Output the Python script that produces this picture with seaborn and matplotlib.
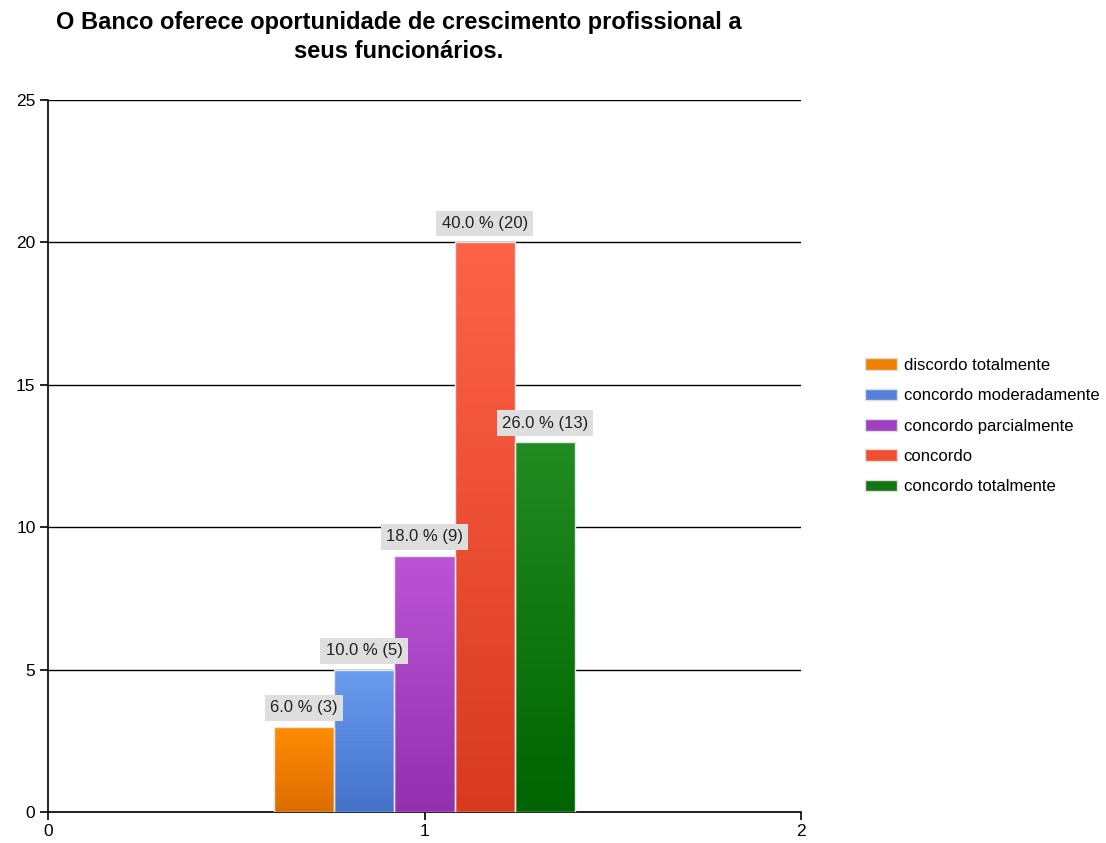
import numpy as np
import pandas as pd
import seaborn as sns
import matplotlib.pyplot as plt
import matplotlib.colors as mcolors

sns.set_style("white")
plt.rcParams["font.family"] = ["Liberation Sans", "DejaVu Sans"]
plt.rcParams["text.color"] = "black"
plt.rcParams["xtick.color"] = "black"
plt.rcParams["ytick.color"] = "black"

categories = ["discordo totalmente", "concordo moderadamente", "concordo parcialmente",
              "concordo", "concordo totalmente"]
counts = [3, 5, 9, 20, 13]
percents = [6.0, 10.0, 18.0, 40.0, 26.0]
# top / bottom shades of each bar gradient
top_colors = ["#ff8c00", "#6a9cf0", "#bb55d5", "#ff6347", "#228b22"]
bottom_colors = ["#dc6e00", "#4372c8", "#9330b0", "#d83a20", "#006400"]
legend_colors = ["#f08000", "#5580d8", "#a040c0", "#f05030", "#117511"]

df = pd.DataFrame({"x": [1] * len(categories), "n": counts, "resp": categories})

fig = plt.figure(figsize=(11.06, 8.43), dpi=100)
ax = fig.add_axes([48 / 1106, 1 - 812 / 843, (801 - 48) / 1106, (812 - 100) / 843])

sns.barplot(data=df, x="x", y="n", hue="resp", hue_order=categories, palette=legend_colors,
            native_scale=True, width=0.8, legend=False, ax=ax, zorder=3)

ax.set_xlim(0, 2)
ax.set_ylim(0, 25)
ax.set_xticks([0, 1, 2])
ax.set_yticks([0, 5, 10, 15, 20, 25])
ax.set_xlabel("")
ax.set_ylabel("")
ax.yaxis.grid(True, color="black", linewidth=1)
ax.set_axisbelow(True)
for s in ["top", "right"]:
    ax.spines[s].set_visible(False)
for s in ["left", "bottom"]:
    ax.spines[s].set_color("black")
    ax.spines[s].set_linewidth(1.2)
ax.tick_params(axis="both", length=6, width=1.2, color="black", labelsize=12.5, pad=3,
               left=True, bottom=True)

# gradient fill + labels
grad = np.linspace(0, 1, 256).reshape(-1, 1)
for patch, top, bot, pct, n in zip(ax.patches, top_colors, bottom_colors, percents, counts):
    x0, y0 = patch.get_x(), patch.get_y()
    w, h = patch.get_width(), patch.get_height()
    cmap = mcolors.LinearSegmentedColormap.from_list("g", [bot, top])
    im = ax.imshow(grad, cmap=cmap, aspect="auto", origin="lower",
                   extent=[x0, x0 + w, y0, y0 + h], zorder=3)
    im.set_clip_path(patch)
    patch.set_facecolor("none")
    patch.set_edgecolor("#e6e6e6")
    patch.set_linewidth(1)
    patch.set_zorder(4)
    ax.annotate(f"{pct:.1f} % ({n})", (x0 + w / 2, h), xytext=(0, 13.5),
                textcoords="offset points", ha="center", va="center", fontsize=12,
                color="#222222", zorder=5,
                bbox=dict(boxstyle="square,pad=0.32", fc="#dedede", ec="none"))
ax.set_xlim(0, 2)
ax.set_ylim(0, 25)

handles = [plt.Rectangle((0, 0), 1, 1, fc=c, ec="#dddddd", lw=1) for c in legend_colors]
fig.legend(handles, categories, loc="center left", bbox_to_anchor=(850 / 1106, 1 - 426 / 843),
           frameon=False, fontsize=12, handlelength=1.9, handleheight=0.7,
           labelspacing=0.92, handletextpad=0.42)

fig.text(399 / 1106, 1 - 22 / 843, "O Banco oferece oportunidade de crescimento profissional a",
         ha="center", va="center", fontsize=17, fontweight="bold")
fig.text(399 / 1106, 1 - 52 / 843, "seus funcionários.",
         ha="center", va="center", fontsize=17, fontweight="bold")

fig.savefig("out.png", dpi=100)
